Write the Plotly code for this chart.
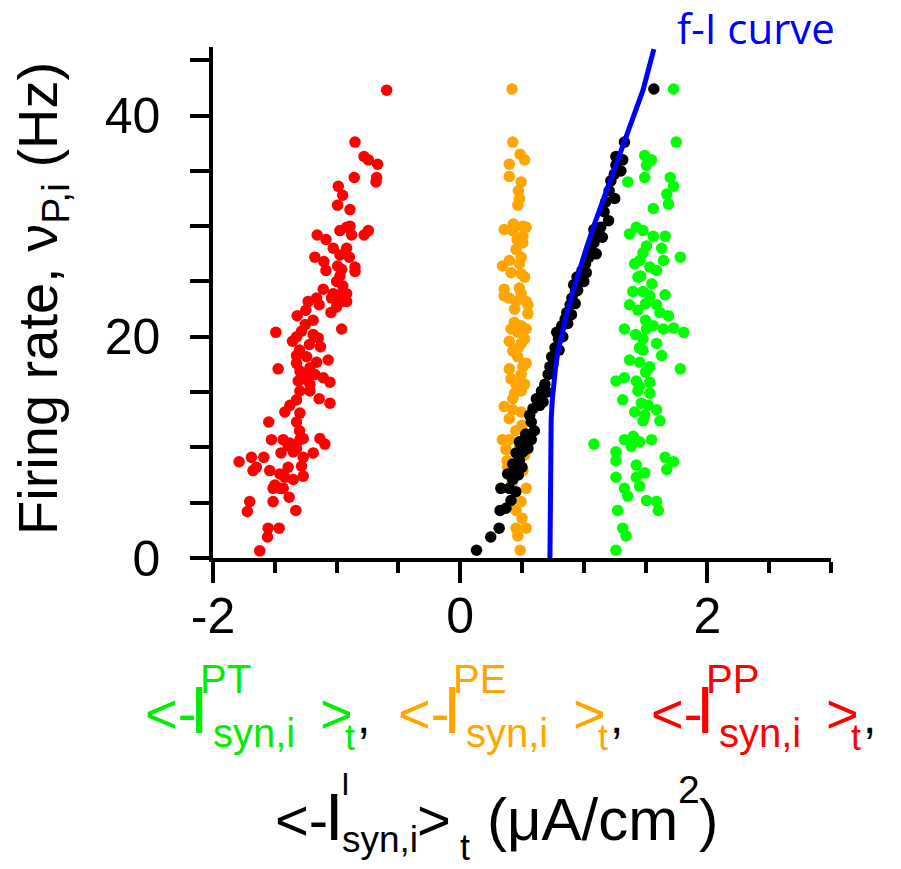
import plotly.graph_objects as go

# ---------------- data ----------------
red_x = [-0.595, -0.851, -0.778, -0.743, -0.668, -0.676, -0.681, -0.857, -0.986, -0.951,
         -0.992, -0.892, -0.892, -0.919, -0.973, -0.878, -0.743, -0.778, -1.157, -1.086,
         -1.027, -0.919, -0.973, -0.897, -1.176, -1.103, -1.086, -0.992, -0.959, -0.851,
         -0.851, -0.973, -1.108, -1.027, -0.973, -0.919, -1.041, -0.959, -0.919, -1.000,
         -1.046, -1.230, -1.141, -1.162, -1.249, -1.319, -0.959, -1.492, -1.254, -1.284,
         -1.189, -1.149, -1.130, -1.357, -1.324, -1.324, -1.243, -1.324, -1.162, -1.068,
         -1.473, -1.297, -1.216, -1.243, -1.176, -1.108, -1.054, -1.311, -1.216, -1.297,
         -1.216, -1.141, -1.054, -1.324, -1.378, -1.419, -1.297, -1.324, -1.549, -1.527,
         -1.432, -1.378, -1.297, -1.270, -1.135, -1.095, -1.392, -1.324, -1.351, -1.189,
         -1.270, -1.284, -1.270, -1.789, -1.689, -1.589, -1.649, -1.676, -1.541, -1.432,
         -1.392, -1.459, -1.419, -1.351, -1.500, -1.459, -1.514, -1.432, -1.384, -1.703,
         -1.722, -1.514, -1.330, -1.554, -1.559, -1.465, -1.622,
         -1.300, -1.220, -1.270, -1.190, -1.000, -0.950, -1.300, -1.450]
red_y = [42.3, 37.6, 36.3, 36.0, 35.6, 34.4, 34.0, 34.4, 33.6, 32.8,
         31.9, 31.5, 30.0, 29.9, 29.6, 29.2, 29.6, 29.2, 29.2, 28.8,
         28.0, 28.0, 27.4, 27.2, 27.2, 26.8, 26.0, 26.4, 26.1, 26.3,
         25.9, 25.5, 24.3, 23.9, 23.8, 23.9, 23.5, 23.2, 23.2, 22.7,
         22.2, 23.2, 22.9, 23.5, 22.4, 21.9, 20.7, 20.4, 21.1, 20.5,
         20.2, 19.9, 19.1, 19.6, 20.0, 18.3, 18.2, 17.6, 17.7, 17.9,
         17.1, 16.9, 17.2, 16.5, 16.6, 16.3, 15.9, 16.0, 15.7, 15.1,
         15.1, 14.4, 14.0, 14.3, 13.8, 13.2, 13.1, 12.3, 12.3, 10.7,
         10.7, 10.4, 10.7, 10.8, 10.8, 10.3, 10.1, 9.9, 9.6, 9.5,
         9.1, 8.3, 7.4, 8.7, 9.1, 9.1, 8.2, 7.9, 7.9, 7.5,
         8.2, 7.6, 7.3, 7.1, 6.6, 6.3, 6.3, 6.3, 5.5, 5.1,
         4.2, 5.1, 4.3, 2.7, 1.9, 2.7, 0.65,
         18.8, 19.3, 16.2, 21.5, 25.0, 24.6, 11.5, 9.5]

orange_x = [0.419, 0.425, 0.485, 0.521, 0.397, 0.397, 0.493, 0.471, 0.479, 0.466,
            0.356, 0.425, 0.507, 0.534, 0.507, 0.507, 0.452, 0.493, 0.479, 0.342,
            0.397, 0.411, 0.493, 0.521, 0.356, 0.479, 0.493, 0.356, 0.452, 0.534,
            0.548, 0.397, 0.548, 0.438, 0.493, 0.411, 0.466, 0.534, 0.521, 0.397,
            0.493, 0.425, 0.466, 0.534, 0.397, 0.507, 0.493, 0.411, 0.452, 0.521,
            0.493, 0.425, 0.356, 0.425, 0.493, 0.397, 0.342, 0.397, 0.370, 0.384,
            0.521, 0.507, 0.534, 0.493, 0.452, 0.452, 0.534, 0.466, 0.485,
            0.440, 0.460, 0.430, 0.470, 0.440, 0.500, 0.450, 0.480, 0.420, 0.500, 0.380]
orange_y = [42.4, 37.6, 36.5, 36.0, 35.6, 34.5, 34.0, 33.2, 32.5, 31.9,
            29.7, 29.6, 30.0, 29.9, 29.1, 28.5, 27.9, 27.2, 26.6, 26.4,
            26.9, 25.8, 25.7, 25.4, 24.3, 24.4, 23.9, 23.7, 23.2, 23.2,
            22.9, 23.5, 22.1, 21.3, 21.0, 20.7, 20.4, 20.7, 19.8, 19.6,
            19.4, 18.7, 18.2, 17.6, 17.1, 17.3, 16.6, 16.2, 15.7, 15.7,
            15.1, 14.4, 13.7, 13.4, 13.2, 12.6, 10.7, 10.7, 9.8, 8.2,
            9.3, 7.9, 6.3, 5.1, 4.3, 2.7, 2.7, 2.0, 0.7,
            22.5, 28.8, 30.2, 19.0, 14.9, 12.0, 11.5, 10.0, 6.8, 3.6, 8.8]

black_x = [0.132, 0.247, 0.315, 0.323, 0.370, 0.411, 0.329, 0.397, 0.425, 0.384,
           0.438, 0.425, 0.479, 0.452, 0.507, 0.493, 0.521, 0.575, 0.479, 0.548,
           0.575, 0.562, 0.589, 0.644, 0.671, 0.616, 0.658, 0.685, 0.712, 0.726,
           0.740, 0.767, 0.795, 0.781, 0.822, 0.849, 0.863, 0.890, 0.904, 0.932,
           0.918, 0.945, 0.986, 1.014, 1.041, 1.055, 1.082, 1.096, 1.137, 1.082,
           1.164, 1.178, 1.205, 1.219, 1.247, 1.260, 1.315, 1.260, 1.329, 1.567,
           0.450, 0.470, 0.500, 0.530, 0.600, 0.700, 0.750, 0.800, 0.830, 0.870,
           0.900, 0.930, 0.950, 1.000, 1.020, 1.100, 1.150, 1.200, 1.250, 1.300]
black_y = [0.7, 1.9, 2.7, 4.3, 4.5, 5.2, 6.3, 6.3, 7.1, 7.6,
           7.9, 8.5, 8.8, 9.5, 9.6, 10.2, 10.7, 10.7, 10.5, 9.9,
           12.3, 12.9, 13.5, 13.8, 14.1, 14.4, 15.1, 15.7, 16.6, 17.3,
           18.2, 19.0, 19.8, 20.4, 21.0, 21.6, 22.2, 22.9, 23.5, 24.1,
           24.7, 25.4, 26.0, 26.6, 27.2, 27.9, 28.5, 29.1, 29.9, 29.7,
           31.3, 32.2, 33.2, 34.1, 34.7, 35.5, 36.0, 36.3, 37.6, 42.4,
           6.0, 7.5, 8.2, 11.2, 11.5, 15.0, 17.5, 18.8, 20.0, 21.2,
           22.0, 23.0, 24.2, 25.0, 25.8, 27.5, 29.0, 30.5, 32.5, 35.0]

green_x = [1.726, 1.748, 1.493, 1.548, 1.507, 1.356, 1.493, 1.699, 1.726, 1.671,
           1.685, 1.562, 1.370, 1.425, 1.479, 1.562, 1.658, 1.507, 1.479, 1.630,
           1.781, 1.411, 1.534, 1.438, 1.589, 1.644, 1.452, 1.397, 1.479, 1.534,
           1.658, 1.370, 1.438, 1.589, 1.616, 1.685, 1.329, 1.507, 1.562, 1.644,
           1.726, 1.808, 1.479, 1.589, 1.479, 1.630, 1.370, 1.452, 1.534, 1.781,
           1.260, 1.329, 1.425, 1.534, 1.438, 1.534, 1.315, 1.466, 1.411, 1.493,
           1.589, 1.616, 1.479, 1.082, 1.260, 1.329, 1.384, 1.452, 1.548, 1.260,
           1.425, 1.493, 1.658, 1.726, 1.671, 1.260, 1.329, 1.425, 1.452, 1.356,
           1.507, 1.589, 1.603, 1.274, 1.315, 1.342, 1.260,
           1.450, 1.500, 1.420, 1.500, 1.550, 1.460, 1.500, 1.450, 1.520, 1.400]
green_y = [42.4, 37.6, 36.4, 36.0, 35.5, 34.0, 34.4, 34.4, 33.6, 32.9,
           32.0, 31.6, 29.3, 29.9, 29.6, 29.1, 29.1, 28.2, 27.6, 28.0,
           27.2, 26.6, 26.3, 25.4, 26.0, 26.9, 26.9, 24.1, 24.1, 23.7,
           23.8, 22.9, 22.4, 22.9, 22.2, 21.9, 20.7, 20.7, 21.0, 20.7,
           20.8, 20.4, 19.8, 19.4, 18.8, 18.3, 17.9, 17.7, 17.3, 17.1,
           16.0, 16.3, 16.0, 15.9, 15.1, 14.9, 14.3, 14.0, 13.2, 12.9,
           13.4, 12.4, 12.4, 10.3, 9.6, 10.7, 10.1, 10.5, 10.7, 8.8,
           8.4, 7.7, 9.1, 8.7, 8.0, 7.3, 6.3, 7.3, 6.5, 5.6,
           5.2, 5.1, 4.3, 4.3, 2.7, 2.0, 0.7,
           19.0, 21.5, 20.2, 23.0, 24.8, 25.5, 16.8, 15.5, 13.8, 11.0]

fi_x = [0.726, 0.726, 0.727, 0.730, 0.736, 0.745, 0.757, 0.772, 0.790, 0.822,
        0.860, 0.905, 0.959, 1.020, 1.090, 1.170, 1.260, 1.370, 1.479, 1.567]
fi_y = [0.0, 5.0, 8.0, 10.5, 12.5, 14.3, 15.9, 17.3, 18.6, 20.3,
        22.0, 23.8, 25.9, 28.0, 30.3, 32.8, 35.6, 39.0, 42.3, 46.0]

y_tickvals = [0, 5, 10, 15, 20, 25, 30, 35, 40, 45]
y_ticktext = ["0", "", "", "", "20", "", "", "", "40", ""]
x_tickvals = [-2, 0, 2]
x_ticktext = ["-2", "0", "2"]
x_minor_vals = [-1.5, -1, -0.5, 0.5, 1, 1.5, 2.5, 3]

GREEN = "#00ee00"
ORANGE = "#ffa500"
RED = "#ff0000"
BLUE = "#0000ff"

# ---------------- figure ----------------
W, H = 901, 869
L, R, T, B = 213, 70, 47, 311
PW, PH = W - L - R, H - T - B

fig = go.Figure()
mk = dict(size=11.5, line=dict(width=0))
fig.add_trace(go.Scatter(x=red_x, y=red_y, mode="markers", marker=dict(color=RED, **mk), cliponaxis=False))
fig.add_trace(go.Scatter(x=orange_x, y=orange_y, mode="markers", marker=dict(color=ORANGE, **mk), cliponaxis=False))
fig.add_trace(go.Scatter(x=green_x, y=green_y, mode="markers", marker=dict(color="#00ff00", **mk), cliponaxis=False))
fig.add_trace(go.Scatter(x=black_x, y=black_y, mode="markers", marker=dict(color="black", **mk), cliponaxis=False))
fig.add_trace(go.Scatter(x=fi_x, y=fi_y, mode="lines", line=dict(color=BLUE, width=5), cliponaxis=False))

def P(px, py):
    return (px - L) / PW, (H - B - py) / PH

anns = []

def txt(s, left_px, base_px, size, color, family="Liberation Sans", k=0.3465):
    x, y = P(left_px, base_px - k * size)
    anns.append(dict(text=s, x=x, y=y, xref="paper", yref="paper", xanchor="left",
                     yanchor="middle", showarrow=False, borderpad=0,
                     font=dict(size=size, color=color, family=family)))

MS = 56   # main size
IS = 66   # tall I
SUP = 40
SUB = 40
TS = 36

def group(x0, sup, color):
    # x0: left edge of "<"
    txt("&lt;-", x0 - 3, 733, MS, color)
    txt("I", x0 + 42, 733, IS, color)
    txt(sup, x0 + 52, 693, SUP, color)
    txt("syn,i", x0 + 65, 747, SUB, color)
    txt("&gt;", x0 + 172, 733, MS, color)
    txt("t", x0 + 197, 750, TS, color)
    txt(",", x0 + 209, 733, 48, "black")

group(147, "PT", GREEN)
group(400, "PE", ORANGE)
group(653, "PP", RED)

# second line
txt("&lt;-", 274, 840, 58, "black")
txt("I", 324, 840, IS, "black")
txt("I", 340, 795, 32, "black")
txt("syn,i", 341, 852, 37, "black")
txt("&gt;", 416, 840, 58, "black")
txt("t", 459, 860, 36, "black")
txt("(μA/cm", 486, 840, 60, "black")
txt("2", 677, 803, 39, "black")
txt(")", 698, 840, 58, "black")

# f-I curve label
txt("f-I curve", 676, 44, 42, BLUE, family="Open Sans", k=0.388)

# y-axis title
yx, yy = P(41, 298)
anns.append(dict(text="Firing rate, ν<sub>P,i</sub> (Hz)", x=yx, y=yy, xref="paper", yref="paper",
                 xanchor="center", yanchor="middle", textangle=-90, showarrow=False,
                 font=dict(size=56, color="black", family="Liberation Sans")))

fig.update_layout(
    width=W, height=H,
    margin=dict(l=L, r=R, t=T, b=B, pad=0),
    paper_bgcolor="white", plot_bgcolor="white",
    showlegend=False,
    annotations=anns,
    xaxis=dict(range=[-2, 3], showgrid=False, zeroline=False, showline=True, linecolor="black",
               linewidth=3.5, ticks="outside", ticklen=21, tickwidth=3.5, tickcolor="black",
               tickmode="array", tickvals=x_tickvals, ticktext=x_ticktext,
               tickfont=dict(size=50, color="black", family="Liberation Sans"),
               ticklabelstandoff=-10,
               minor=dict(tickmode="array", tickvals=x_minor_vals, ticks="outside", ticklen=11,
                          tickwidth=3.5, tickcolor="black", showgrid=False)),
    yaxis=dict(range=[0, 46.2], showgrid=False, zeroline=False, showline=True, linecolor="black",
               linewidth=3.5, ticks="outside", ticklen=19, tickwidth=3.5, tickcolor="black",
               tickmode="array", tickvals=y_tickvals, ticktext=y_ticktext,
               tickfont=dict(size=50, color="black", family="Liberation Sans"),
               ticklabelstandoff=20),
)

fig.write_html("out.html")
